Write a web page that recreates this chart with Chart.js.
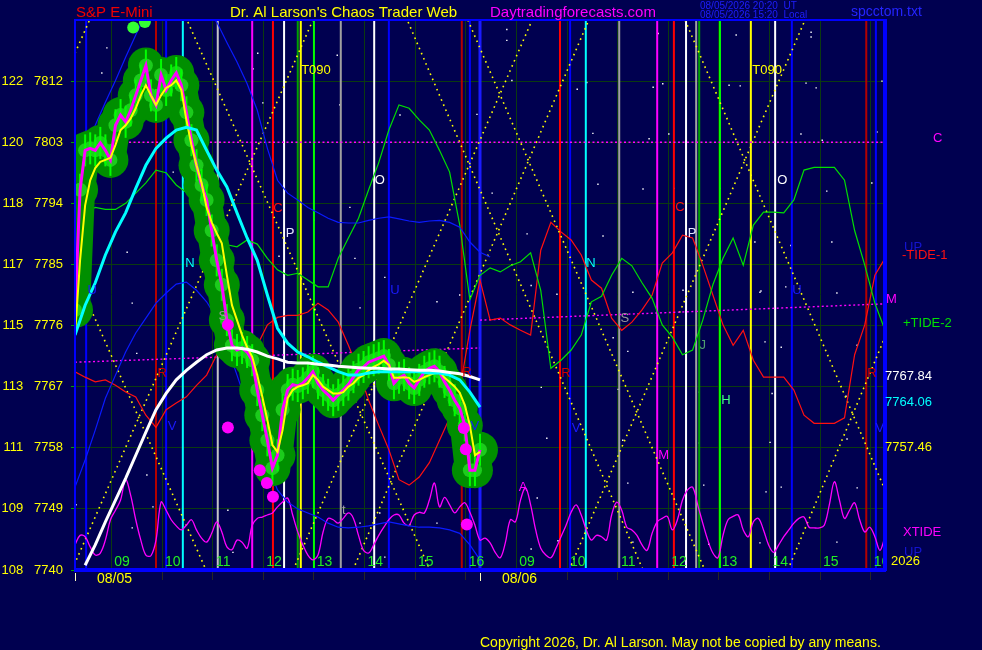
<!DOCTYPE html>
<html>
<head>
<meta charset="utf-8">
<title>S&amp;P E-Mini - Chaos Trader Web</title>
<script src="https://cdn.jsdelivr.net/npm/chart.js@4.4.1/dist/chart.umd.min.js"></script>
<style>
  html, body { margin: 0; padding: 0; background: #000050; }
  #wrap { width: 982px; height: 650px; }
</style>
</head>
<body>
<div id="wrap"><canvas id="chart" width="982" height="650"></canvas></div>
<script>
// ---- axes ----
const yMin = 7740, yMax = 7821;
const priceTicks = [7740, 7749, 7758, 7767, 7776, 7785, 7794, 7803, 7812];
const tideTicks = [108, 109, 111, 113, 115, 117, 118, 120, 122];
const hourGrid = [0.72, 1.72, 2.72, 3.72, 4.72, 5.72, 6.72, 7.72, 8.72, 9.72, 10.72, 11.72, 12.72, 13.72, 14.72, 15.72];
const hourNames = ['09', '10', '11', '12', '13', '14', '15', '16', '09', '10', '11', '12', '13', '14', '15', '16'];
const dayStarts = [0, 8];
const dayNames = ['08/05', '08/06'];

// ---- price (day 1), step 0.1 hour ----
const closeVals = [
  7778.3, 7796, 7801.8, 7802.1, 7801.8, 7802.9, 7801.8, 7800.4, 7805.5, 7807,
  7806, 7807.7, 7809.9, 7812.1, 7814.3, 7809.9, 7808.5, 7812.9, 7810.7, 7812.1,
  7813.2, 7811.4, 7807.4, 7803.3, 7799.6, 7796.7, 7794.5, 7790, 7785.6, 7782,
  7776.8, 7773.1, 7772.4, 7772.7, 7772.1, 7770.9, 7766.5, 7762.8, 7759.1, 7755,
  7756.9, 7763.6, 7766.5, 7767.3, 7767.1, 7767.5, 7768.3, 7769.2, 7767.5, 7766.5,
  7765.8, 7765, 7765.8, 7766.5, 7767.3, 7768.4, 7769.5, 7769.9, 7770.6, 7770.9,
  7771.2, 7771.5, 7770.2, 7767.5, 7768.3, 7768.7, 7767.5, 7766.8, 7768, 7769.2,
  7769.7, 7770, 7769.2, 7767.7, 7766.5, 7765, 7763.8, 7761.3, 7754.7, 7754.7,
  7757.7
];
const fastAvg = [
  7774.6, 7785.6, 7793.7, 7797.4, 7799.2, 7800.1, 7800.4, 7800.7, 7802.6, 7804.8,
  7805.5, 7806.5, 7808, 7809.9, 7811.4, 7809.9, 7808.5, 7809.9, 7811, 7811.4,
  7812.1, 7810.7, 7806.3, 7802.6, 7799.6, 7797, 7793.4, 7791.2, 7789.6, 7788.1,
  7783.4, 7779, 7776.8, 7774.6, 7772.8, 7771.4, 7768.7, 7765.5, 7762.1, 7758.4,
  7757.4, 7760.6, 7765.3, 7766.5, 7767, 7767.2, 7767.5, 7768.7, 7768, 7767,
  7766.5, 7766, 7766, 7766.2, 7767, 7767.5, 7768.3, 7768.7, 7769.4, 7769.9,
  7770.3, 7770.8, 7770.2, 7768.3, 7768.3, 7768.4, 7768.3, 7767.7, 7768, 7768.4,
  7768.7, 7769, 7769.2, 7768.3, 7767.7, 7767, 7766.1, 7764.3, 7761.3, 7756.9,
  7757.4
];
// step 0.2 hour
const midAvg = [
  7774.6, 7779, 7782.3, 7786.4, 7789.8, 7792.6, 7796.2, 7799.6, 7802.1, 7803.6,
  7804.8, 7805.2, 7804.8, 7801.8, 7798.9, 7796.4, 7792.6, 7788.9, 7785.6, 7780.5,
  7775.6, 7773.4, 7772.1, 7771.4, 7770.6, 7769.9, 7769.2, 7768.7, 7768.7, 7769,
  7769.2, 7769.2, 7769.2, 7769.2, 7769.2, 7769, 7769, 7768.7, 7768, 7766.2,
  7764
];
// step 0.2 hour, from 0.2
const slowAvg = [
  7740.7, 7743.7, 7747.1, 7750.3, 7753.5, 7756.9, 7760.3, 7763.6, 7766, 7768,
  7769.4, 7770.6, 7771.7, 7772.4, 7772.7, 7772.7, 7772.5, 7772.1, 7771.5, 7771.1,
  7770.6, 7770.5, 7770.5, 7770.3, 7770.2, 7770, 7769.9, 7769.8, 7769.7, 7769.7,
  7769.6, 7769.6, 7769.5, 7769.4, 7769.4, 7769.3, 7769.1, 7768.9, 7768.5, 7768
];
const dotT = [3.02, 3.02, 3.65, 3.79, 3.91, 7.68, 7.72, 7.74];
const dotP = [7776.1, 7761, 7754.7, 7752.8, 7750.8, 7760.9, 7757.8, 7746.7];
const peakT = [1.15, 1.38];
const peakP = [7819.9, 7820.7];

// ---- tides, step 0.2 hour over both days ----
const plusTide = [
  7792, 7792.7, 7793.4, 7793.1, 7793.1, 7794, 7795.5, 7797, 7798.9, 7798.5,
  7796.7, 7795.6, 7794.9, 7793, 7790.1, 7787.9, 7787.6, 7788.6, 7788, 7785.9,
  7784.2, 7783.4, 7783.7, 7782.7, 7781.7, 7781.7, 7785.9, 7788.9, 7791.8, 7796,
  7800, 7804.8, 7808.5, 7808, 7806.3, 7804.8, 7801.8, 7798.6, 7790.8, 7779.8,
  7783.4,
  7784.5, 7783.9, 7784.8, 7785.4, 7786.7, 7781.2, 7769.7, 7770.9, 7772.4, 7774.6,
  7779.5, 7780.3, 7783.4, 7785.9, 7784.8, 7782.3, 7780, 7776.1, 7774.3, 7771.7,
  7772.4, 7776.8, 7782, 7785.9, 7788.9, 7784.9, 7790.8, 7792.7, 7792.7, 7792.6,
  7794.5, 7798.9, 7799.3, 7799.3, 7799.3, 7797.4, 7790, 7784.9, 7779.3, 7775.3
];
const minusTide = [
  7769.2, 7768.4, 7767.7, 7768, 7767.2, 7766.2, 7765.5, 7762.8, 7761, 7763.6,
  7764.6, 7765.5, 7767.2, 7768.7, 7771.7, 7773.4, 7773.6, 7772.4, 7773.1, 7776.1,
  7777.2, 7777.5, 7777.5, 7778, 7779.3, 7778.3, 7776.5, 7773.1, 7769.4, 7765,
  7761.3, 7757.7, 7753.3, 7752.5, 7753.7, 7755.8, 7759.1, 7762.4, 7766.5, 7775.3,
  7782.7,
  7776.8, 7777.1, 7776.1, 7775.3, 7774.6, 7787.1, 7791.2, 7789.8, 7788.6, 7786.4,
  7782.7, 7781.5, 7777.1, 7775.3, 7776.5, 7778.3, 7780.5, 7785.2, 7786.7, 7789.3,
  7788.9, 7784.9, 7780.5, 7776.1, 7773.1, 7775.3, 7770.9, 7768.4, 7768.4, 7768.4,
  7766.5, 7762.8, 7761.6, 7761.6, 7761.6, 7762.4, 7771.7, 7776.1, 7783.4, 7785.9
];
const blueUpper = [
  7798.9, 7802.3, 7805.5, 7808.9, 7812.1, 7815.5, 7818.8, 7822, 7824, 7825.5,
  7826, 7825.5, 7824, 7822.5, 7820.7, 7817.7, 7814.8, 7811.6, 7807.7, 7802.1,
  7797.4, 7795.5, 7794.5, 7793.4, 7792.6, 7791.8, 7791.2, 7791.1, 7791.1, 7791.5,
  7791.8, 7792, 7791.7, 7791.4, 7791.2, 7791.4, 7791.5, 7791.2, 7790.5, 7788.3,
  7786.8, 7786.1
];
const blueLower = [
  7752.2, 7756.2, 7760.6, 7765.3, 7768.7, 7772.1, 7774.9, 7777.1, 7779.3, 7780.8,
  7782.1, 7782.4, 7781.2, 7779.5, 7777.1, 7773.1, 7768.7, 7764.3, 7759.9, 7755.5,
  7751.8, 7750, 7749, 7748.4, 7747.8, 7746.9, 7746.3, 7746.2, 7746.3, 7746.5,
  7746.8, 7747.1, 7746.8, 7746.5, 7746.3, 7746.3, 7746.2, 7745.9, 7745.4, 7743.7,
  7741.5
];
// step 0.1 hour over both days
const xTide = [
  7743.7, 7745.1, 7744.9, 7743.4, 7742.2, 7742.5, 7744.4, 7747.4, 7748.8, 7750.3,
  7753.3, 7751, 7747.4, 7744.4, 7742.2, 7742.1, 7744.4, 7750, 7748.8, 7747.4,
  7746.5, 7745.9, 7746.6, 7747.4, 7745.9, 7744.7, 7744.1, 7745.4, 7747.1, 7745.6,
  7743.4, 7743, 7744.4, 7744.1, 7743.2, 7746.6, 7747.6, 7747.8, 7748.1, 7748.4,
  7749.3, 7750, 7750.6, 7748.1, 7745.6, 7743.7, 7742.2, 7741.5, 7742.2, 7745.6,
  7747.6, 7747.4, 7746.9, 7747.6, 7748.4, 7747.6, 7745.1, 7742.9, 7742.5, 7743.7,
  7745.1, 7746.3, 7747.4, 7748.1, 7748.1, 7746.9, 7746.6, 7748.1, 7748.5, 7748.4,
  7750.3, 7752.8, 7749.3, 7750.7, 7749.6, 7748.4, 7749.3, 7749.9, 7748.5, 7746.6,
  7744.4, 7744.7, 7744, 7742.6, 7741.8, 7744, 7747.4, 7747.1, 7750.3, 7752.1,
  7749.6, 7745.9, 7743.2, 7742.2, 7741.8, 7743.2, 7744.9, 7746.6, 7748.5, 7749.6,
  7748.1, 7745.9, 7744.4, 7745.1, 7744.9, 7744.4, 7748.1, 7750, 7748.8, 7746.3,
  7745.9, 7745.1, 7743.7, 7742.9, 7745.4, 7747.1, 7747.6, 7747.9, 7745.9, 7747.4,
  7750.3, 7751.8, 7752.2, 7749.6, 7746.9, 7744.4, 7742.5, 7741.8, 7745.1, 7747.4,
  7747.9, 7748.1, 7745.9, 7744.9, 7747.1, 7747.6, 7745.9, 7743.7, 7742.6, 7743.7,
  7744.9, 7745.9, 7746.9, 7747.6, 7747.8, 7746.3, 7746.2, 7746.2, 7746.6, 7749.6,
  7753, 7750.3, 7747.6, 7748.8, 7749.9, 7747.4, 7745.6, 7746.3, 7744.9, 7742.9,
  7744.9
];

// ---- event lines (hours from chart start) ----
const darkRedT = [1.60, 7.64, 15.63];
const redT = [3.91, 9.58, 11.83];
const blueT = [0.22, 1.80, 6.20, 7.80, 9.78, 14.16, 15.82];
const dayLineT = [8.0];
const cyanT = [2.13, 10.09];
const silverT = [2.82];
const grayT = [5.25, 10.75, 12.27];
const whiteT = [4.13, 5.91, 12.07, 13.83];
const magentaT = [3.50, 11.50];
const greenT = [4.40, 12.33];
const limeT = [4.72, 12.74];
const yellowT = [4.46, 13.35];

// dotted yellow diagonals: start (t1,p1) to end (t2,p2)
const diagT1 = [0, -0.06, 0, 2.23, 6.58, 4.31, 5.49, 7.76, 9.76, 12.05, 14.08];
const diagP1 = [7816.1, 7740, 7783.7, 7820.7, 7820.7, 7740, 7740, 7821, 7740, 7821, 7740];
const diagT2 = [0.3, 4.70, 2.57, 7.01, 11.22, 9.03, 10.15, 12.44, 14.42, 16.0, 16.0];
const diagP2 = [7821.2, 7821, 7740.3, 7740, 7740, 7821, 7821, 7740, 7821, 7751.8, 7774.3];

// dotted magenta levels
const levelT1 = [0, 0, 8];
const levelP1 = [7803, 7770.6, 7776.8];
const levelT2 = [16, 8, 16];
const levelP2 = [7803, 7772.7, 7779.2];

// background dots
const starT = [0.63, 0.53, 3.61, 3.52, 5.18, 5.23, 6.42, 3.71, 8.53, 8.53, 8.63, 9.92, 10.11, 11.42, 11.52, 11.61,
  13.06, 12.92, 13.14, 14.44, 14.54, 14.54, 14.64, 15.94, 14.34, 14.76, 15.84, 14.85, 15.74, 14.14, 14.95,
  13.53, 14.04, 15.05, 13.63, 13.95, 15.45, 13.77, 13.73, 15.23, 15.25, 7.94, 10.23, 11.34, 11.73, 10.33,
  11.22, 8.24, 8.93, 10.43, 11.83, 12.74, 13.43, 9.01, 9.52, 11.02, 12.01, 13.55, 10.63, 10.92, 9.21, 10.73,
  12.33, 9.32, 10.82, 12.33, 4.03, 4.72, 5.43, 5.53, 6.12, 5.63, 7.15, 7.6, 1.13, 1.22, 1.42, 1.13, 1.03,
  1.94, 0.02, 1.54, 3.02, 3.12, 5.63, 6.02, 6.12, 7.15, 9.13, 9.01, 9.54, 10.92, 11.02, 12.42, 12.52, 13.65,
  13.53, 13.95, 15.05, 15.45];
const starP = [7816.9, 7813.2, 7816.1, 7813.8, 7815.8, 7808.5, 7807, 7808.8, 7819.6, 7818, 7812.1, 7810.8, 7811.8,
  7811.1, 7819, 7811.6, 7818.8, 7811.4, 7811.3, 7811.7, 7819.2, 7818.5, 7811, 7812, 7804.2, 7803.3, 7804.5,
  7795.8, 7797, 7787.8, 7788.3, 7780.9, 7781.7, 7780.8, 7773.6, 7772.8, 7773.1, 7766, 7758.8, 7765.6, 7759.3,
  7807.1, 7804.3, 7803.5, 7804.2, 7796.8, 7796.1, 7795.5, 7789.5, 7789.2, 7796.2, 7796.2, 7788.3, 7781.9,
  7780.6, 7780.9, 7781.2, 7781.1, 7774.2, 7772.2, 7766.9, 7766.6, 7766.2, 7759.4, 7759.1, 7758.7, 7786.2,
  7791.5, 7793.4, 7785.9, 7783.1, 7778.6, 7779.5, 7780.5, 7779.3, 7771.9, 7754, 7746.2, 7786.8, 7798.6,
  7749.6, 7749.3, 7748.8, 7742.6, 7746.9, 7748.4, 7741.9, 7746.9, 7750.6, 7743.1, 7744.3, 7752.8, 7744.1,
  7752.5, 7743.8, 7751.5, 7744, 7752.2, 7744.1, 7752.1];

// letters on the chart
const markT = [4.76, 13.67, 2.27, 10.19, 6.02, 13.97, 4.25, 12.19, 4.01, 11.95, 0.34, 6.32, 14.26, 2.92, 10.86,
  1.72, 7.74, 9.7, 15.74, 1.92, 7.9, 9.9, 15.9, 11.63, 12.86, 12.4, 5.31, 8.85];
const markP = [7813.6, 7813.6, 7785.2, 7785.2, 7797.4, 7797.4, 7789.5, 7789.5, 7793.3, 7793.4, 7781.2, 7781.2,
  7781.2, 7777.3, 7777.1, 7769, 7769.1, 7769, 7769, 7761.1, 7761.1, 7760.9, 7760.9, 7756.9, 7765, 7773.1,
  7748.8, 7752.2];
const markText = ['T090', 'T090', 'N', 'N', 'O', 'O', 'P', 'P', 'C', 'C', 'U', 'U', 'U', 'S', 'S',
  'R', 'R', 'R', 'R', 'V', 'V', 'V', 'V', 'M', 'H', 'J', 't', 'A'];

// ---- styles ----
const BG = '#000050';
const GRID = '#0b3a10';
const markColor = { T090: '#ffff00', N: '#00ffff', O: '#ffffff', P: '#e8e8ff', C: '#ff1010', U: '#1a1aff',
  S: '#9a9a9a', R: '#d00000', V: '#1a1aff', M: '#ff00ff', H: '#40ff80', J: '#50a070', t: '#a0a0a0', A: '#ff00ff' };
const order = { stars: 100, vlines: 90, diag: 85, level: 80, tide: 70, xtide: 65, blue: 60, glow: 50, bars: 45,
  close: 40, fast: 35, mid: 30, slow: 25, dots: 20 };

function pts(values, start, step) {
  return values.map((v, i) => ({ x: start + i * step, y: v }));
}
function pairs(ts, ps) {
  return ts.map((t, i) => ({ x: t, y: ps[i] }));
}
function lineSet(data, color, width, layer, extra) {
  return Object.assign({
    data: data, borderColor: color, borderWidth: width, pointRadius: 0,
    fill: false, tension: 0, order: layer
  }, extra || {});
}

const datasets = [];

// background dots
datasets.push(lineSet(pairs(starT, starP), '#ffffff', 0, order.stars, {
  showLine: false, pointRadius: 1, pointStyle: 'rect', pointBackgroundColor: '#ffffff', pointBorderWidth: 0
}));

// vertical event lines
const vGroups = [
  [darkRedT, '#b40000', 2], [redT, '#ff0000', 2], [blueT, '#0000ff', 2], [dayLineT, '#1a1aff', 3],
  [cyanT, '#00ffff', 2], [silverT, '#c4c4c4', 2], [grayT, '#a0a0a0', 2], [whiteT, '#ffffff', 2],
  [magentaT, '#ff00ff', 2], [greenT, '#00a000', 2], [limeT, '#00ff00', 2], [yellowT, '#ffff00', 2]
];
vGroups.forEach(([ts, color, w]) => {
  ts.forEach(t => datasets.push(lineSet([{ x: t, y: yMin }, { x: t, y: yMax }], color, w, order.vlines)));
});

// dotted diagonals
diagT1.forEach((t, i) => {
  datasets.push(lineSet([{ x: t, y: diagP1[i] }, { x: diagT2[i], y: diagP2[i] }], '#ffff00', 1.6, order.diag,
    { borderDash: [1.6, 4] }));
});

// dotted levels
levelT1.forEach((t, i) => {
  datasets.push(lineSet([{ x: t, y: levelP1[i] }, { x: levelT2[i], y: levelP2[i] }], '#ff00ff', 1.4, order.level,
    { borderDash: [2, 2.5] }));
});

// tides
datasets.push(lineSet(pts(plusTide, 0, 0.2), '#00e000', 1.2, order.tide));
datasets.push(lineSet(pts(minusTide, 0, 0.2), '#ff1010', 1.2, order.tide));
datasets.push(lineSet(pts(xTide, 0, 0.1), '#ff00ff', 1.3, order.xtide, { tension: 0.35 }));
datasets.push(lineSet(pts(blueUpper, 0, 0.2), '#0a1aff', 1.2, order.blue));
datasets.push(lineSet(pts(blueLower, 0, 0.2), '#0a1aff', 1.2, order.blue));

// price glow: dark band with round blobs, bright green range bars
const round = { borderJoinStyle: 'round', borderCapStyle: 'round' };
datasets.push(lineSet(pts(closeVals, 0, 0.1), '#008f00', 30, order.glow, round));
datasets.push(lineSet(pts(closeVals, 0, 0.1), '#008f00', 0, order.glow, {
  showLine: false, pointRadius: 18, pointBackgroundColor: '#008f00', pointBorderWidth: 0
}));
datasets.push(lineSet(pts(closeVals, 0, 0.1), '#22e622', 0, order.bars + 1, {
  showLine: false, pointRadius: 7, pointBackgroundColor: '#1ccc1c', pointBorderWidth: 0
}));
datasets.push(lineSet(pts(closeVals, 0, 0.1), '#00ff00', 0, order.bars, {
  showLine: false, pointRadius: 16, pointStyle: 'line', pointRotation: 90,
  pointBorderColor: '#00ff00', pointBorderWidth: 2
}));
datasets.push(lineSet(pairs(peakT, peakP), '#33ff33', 0, order.bars, {
  showLine: false, pointRadius: 6, pointBackgroundColor: '#33ff33', pointBorderWidth: 0
}));
datasets.push(lineSet(pts(closeVals, 0, 0.1), '#ff00ff', 3, order.close));
datasets.push(lineSet(pts(fastAvg, 0, 0.1), '#ffff00', 2, order.fast));
datasets.push(lineSet(pts(midAvg, 0, 0.2), '#00ffff', 3, order.mid));
datasets.push(lineSet(pts(slowAvg, 0.2, 0.2), '#ffffff', 3, order.slow));
datasets.push(lineSet(pairs(dotT, dotP), '#ff00ff', 0, order.dots, {
  showLine: false, pointRadius: 6, pointBackgroundColor: '#ff00ff', pointBorderWidth: 0
}));

const FONT = '"Liberation Sans", Arial, sans-serif';

function text(ctx, s, x, y, color, size, align) {
  ctx.font = size + 'px ' + FONT;
  ctx.fillStyle = color;
  ctx.textAlign = align || 'left';
  ctx.textBaseline = 'middle';
  ctx.fillText(s, x, y);
}

const paint = {
  id: 'paint',
  beforeDraw(chart) {
    const ctx = chart.ctx;
    ctx.save();
    ctx.fillStyle = BG;
    ctx.fillRect(0, 0, chart.width, chart.height);
    ctx.restore();
  },
  afterDatasetsDraw(chart) {
    const { ctx, chartArea: a, scales: { x, y } } = chart;
    ctx.save();
    ctx.beginPath();
    ctx.rect(a.left, a.top, a.right - a.left, a.bottom - a.top);
    ctx.clip();
    markText.forEach((s, i) => {
      text(ctx, s, x.getPixelForValue(markT[i]), y.getPixelForValue(markP[i]), markColor[s], 13, 'center');
    });
    hourNames.forEach((s, i) => {
      text(ctx, s, x.getPixelForValue(hourGrid[i] + 0.21), a.bottom - 8, '#22ee22', 14, 'center');
    });
    ctx.restore();

    ctx.save();
    ctx.strokeStyle = '#0000ff';
    ctx.lineWidth = 2;
    ctx.strokeRect(a.left, a.top, a.right - a.left, a.bottom - a.top);
    ctx.lineWidth = 4;
    ctx.beginPath();
    ctx.moveTo(a.left - 1, a.bottom);
    ctx.lineTo(a.right + 1, a.bottom);
    ctx.moveTo(a.right, a.top - 1);
    ctx.lineTo(a.right, a.bottom + 1);
    ctx.stroke();
    ctx.restore();
  },
  afterDraw(chart) {
    const { ctx, chartArea: a, scales: { x } } = chart;
    ctx.save();
    // day marks
    dayStarts.forEach((d, i) => {
      const px = x.getPixelForValue(d);
      ctx.strokeStyle = '#ffffc0';
      ctx.lineWidth = 1;
      ctx.beginPath();
      ctx.moveTo(px + 0.5, a.bottom + 3);
      ctx.lineTo(px + 0.5, a.bottom + 11);
      ctx.stroke();
      text(ctx, dayNames[i], px + 22, a.bottom + 9, '#ffff00', 14, 'left');
    });
    // header
    text(ctx, 'S&P E-Mini', 76, 13, '#f00000', 15);
    text(ctx, "Dr. Al Larson's Chaos Trader Web", 230, 13, '#ffff00', 15);
    text(ctx, 'Daytradingforecasts.com', 490, 13, '#ff00ff', 15);
    text(ctx, '08/05/2026 20:20  UT', 700, 6, '#1e1eff', 10);
    text(ctx, '08/05/2026 15:20  Local', 700, 15, '#1e1eff', 10);
    text(ctx, 'spcctom.txt', 851, 12, '#2424ff', 14);
    // right side labels
    text(ctx, 'C', 933, 138, '#ff00ff', 13);
    text(ctx, 'UP', 904, 247, '#1414d0', 13);
    text(ctx, '-TIDE-1', 902, 255, '#ff1010', 13);
    text(ctx, 'M', 886, 299, '#ff00ff', 13);
    text(ctx, '+TIDE-2', 903, 323, '#00e000', 13);
    text(ctx, '7767.84', 885, 376, '#ffffff', 13);
    text(ctx, '7764.06', 885, 402, '#00ffff', 13);
    text(ctx, '7757.46', 885, 447, '#ffff00', 13);
    text(ctx, 'XTIDE', 903, 532, '#ff00ff', 13);
    text(ctx, 'UP', 904, 552, '#1414d0', 13);
    text(ctx, '2026', 891, 561, '#ffff00', 13);
    // footer
    text(ctx, 'Copyright 2026, Dr. Al Larson. May not be copied by any means.', 480, 643, '#ffff00', 14);
    ctx.restore();
  }
};

new Chart(document.getElementById('chart'), {
  type: 'line',
  data: { datasets: datasets },
  options: {
    responsive: false,
    devicePixelRatio: 1,
    animation: false,
    events: [],
    layout: { padding: { top: 20, right: 97, left: 0, bottom: 0 } },
    plugins: { legend: { display: false }, tooltip: { enabled: false } },
    scales: {
      x: {
        type: 'linear', min: 0, max: 16,
        afterFit(scale) { scale.height = 80; },
        afterBuildTicks(scale) { scale.ticks = hourGrid.map(v => ({ value: v })); },
        grid: { color: GRID, lineWidth: 1, tickLength: 10, tickColor: '#262626' },
        border: { color: '#0000ff', width: 3 },
        ticks: { callback: () => '', autoSkip: false, maxRotation: 0 }
      },
      y: {
        type: 'linear', min: yMin, max: yMax,
        afterFit(scale) { scale.width = 75; },
        afterBuildTicks(scale) { scale.ticks = priceTicks.map(v => ({ value: v })); },
        grid: { color: GRID, lineWidth: 1, tickLength: 4, tickColor: '#00a000' },
        border: { color: '#0000ff', width: 2 },
        ticks: {
          color: '#ffff00', font: { size: 13, family: FONT }, padding: 8, autoSkip: false,
          callback: (v, i) => tideTicks[i] + '   ' + v
        }
      }
    }
  },
  plugins: [paint]
});
</script>
</body>
</html>
